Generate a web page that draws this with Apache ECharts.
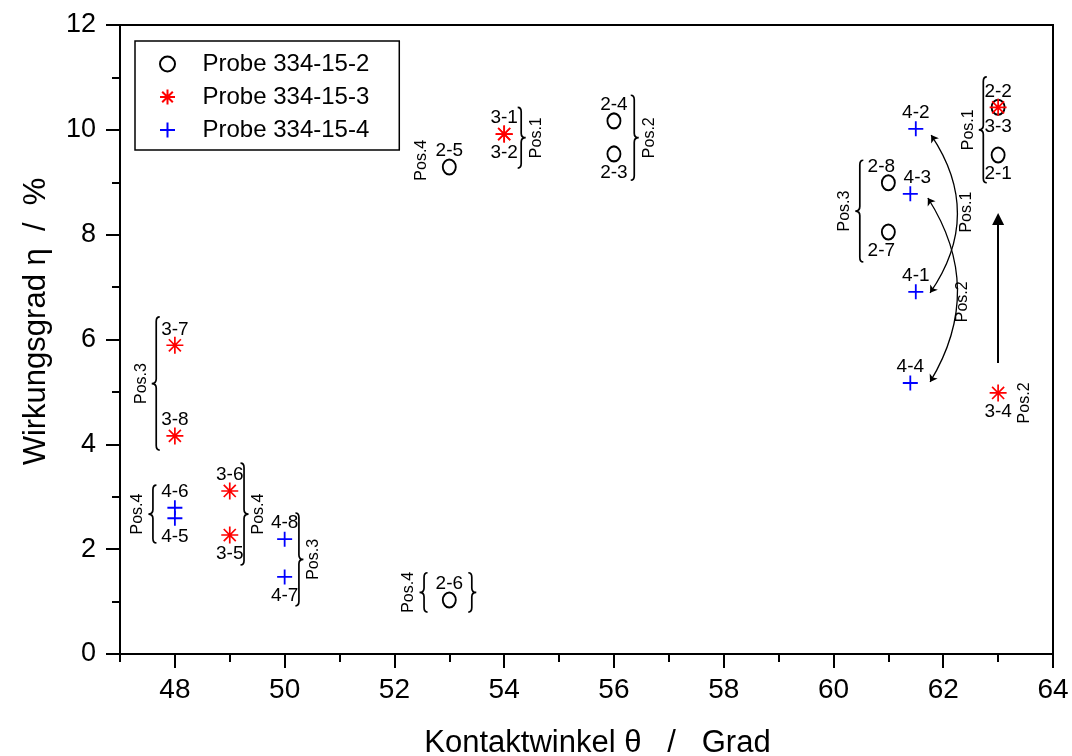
<!DOCTYPE html>
<html><head><meta charset="utf-8">
<script src="https://cdn.jsdelivr.net/npm/echarts@6/dist/echarts.min.js"></script>
<style>html,body{margin:0;padding:0;background:#fff}#c{width:1072px;height:756px}</style>
</head><body><div id="c"></div>
<script>
// ---- data ----
const xMajorTicks = [48, 50, 52, 54, 56, 58, 60, 62, 64];
const yTicks = [0, 2, 4, 6, 8, 10, 12];
const seriesNames = ['Probe 334-15-2', 'Probe 334-15-3', 'Probe 334-15-4'];

const names2 = ['2-1', '2-2', '2-3', '2-4', '2-5', '2-6', '2-7', '2-8'];
const x2 = [63, 63, 56, 56, 53, 53, 61, 61];
const y2 = [9.52, 10.43, 9.54, 10.17, 9.29, 1.03, 8.05, 8.99];
const place2 = ['b', 't', 'b', 't', 't', 't', 'bl', 'tl'];

const names3 = ['3-1', '3-2', '3-3', '3-4', '3-5', '3-6', '3-7', '3-8'];
const x3 = [54, 54, 63, 63, 49, 49, 48, 48];
const y3 = [9.92, 9.92, 10.43, 4.98, 2.27, 3.11, 5.89, 4.16];
const place3 = ['t', 'b', 'b', 'b', 'b', 't', 't', 't'];

const names4 = ['4-1', '4-2', '4-3', '4-4', '4-5', '4-6', '4-7', '4-8'];
const x4 = [61.5, 61.5, 61.4, 61.4, 48, 48, 50, 50];
const y4 = [6.91, 10.02, 8.78, 5.17, 2.59, 2.79, 1.47, 2.19];
const place4 = ['t', 't', 'tr', 't', 'b', 't', 'b', 't'];

// braces: [x, yTop, yBottom, direction (1 = "}", -1 = "{"), label]
const braces = [
  [54.31, 10.43, 9.27, 1, 'Pos.1'],
  [56.37, 10.66, 9.04, 1, 'Pos.2'],
  [62.73, 11.01, 8.99, -1, 'Pos.1'],
  [60.48, 9.42, 7.48, -1, 'Pos.3'],
  [47.66, 6.43, 3.89, -1, 'Pos.3'],
  [47.60, 3.22, 2.12, -1, 'Pos.4'],
  [49.26, 3.64, 1.70, 1, 'Pos.4'],
  [50.26, 2.69, 0.92, 1, 'Pos.3'],
  [52.54, 1.55, 0.80, -1, 'Pos.4'],
  [53.41, 1.55, 0.80, 1, '']
];
// free position labels: [x, y, label]
const posTexts = [
  [52.50, 9.42, 'Pos.4'],
  [62.42, 8.43, 'Pos.1'],
  [62.36, 6.72, 'Pos.2'],
  [63.49, 4.79, 'Pos.2']
];
// curved double arrows: [x1, y1, x2, y2]
const arcs = [
  [61.78, 9.90, 61.76, 6.89],
  [61.72, 8.70, 61.76, 5.19]
];
// straight arrow: [x1, y1, x2, y2]
const straightArrow = [63, 5.55, 63, 8.30];

// ---- chart ----
const FONT = 'Liberation Sans, Arial, Helvetica, sans-serif';
const offsets = { t: [0, -16], b: [0, 19], tl: [-7, -16], tr: [7, -16], bl: [-7, 19] };

function pts(names, xs, ys, places) {
  return names.map((n, i) => ({
    value: [xs[i], ys[i]], name: n,
    label: { offset: offsets[places[i]] }
  }));
}

const ptLabel = {
  show: true, position: 'inside', formatter: p => p.name,
  color: '#000', fontSize: 19, fontFamily: FONT
};

const starPath = 'path://M8 0V16M0 8H16M2.34 2.34L13.66 13.66M2.34 13.66L13.66 2.34';
const plusPath = 'path://M0 8H16M8 0V16';

const chart = echarts.init(document.getElementById('c'), null, { renderer: 'canvas' });

const option = {
  animation: false,
  backgroundColor: '#fff',
  grid: {
    left: 120, right: 19, top: 25, bottom: 102, containLabel: false, outerBoundsMode: 'none',
    show: true, borderColor: '#000', borderWidth: 2, backgroundColor: 'transparent'
  },
  legend: {
    data: seriesNames,
    orient: 'vertical', left: 135, top: 41,
    borderColor: '#000', borderWidth: 1.5,
    padding: [11, 30, 8, 24],
    itemWidth: 40, itemHeight: 15, itemGap: 9,
    textStyle: { fontSize: 24, lineHeight: 23, fontFamily: FONT, color: '#000', padding: [0, 0, 0, 10] }
  },
  xAxis: [{
    type: 'value', min: 47, max: 64, interval: 1,
    axisLine: { show: true, onZero: false, lineStyle: { color: '#000', width: 2 } },
    axisTick: { show: true, length: 8, lineStyle: { color: '#000', width: 2 } },
    axisLabel: { show: false },
    splitLine: { show: false }
  }, {
    type: 'value', min: 47, max: 64, position: 'bottom', offset: 0,
    axisLine: { show: false },
    axisTick: { show: true, customValues: xMajorTicks, length: 14, lineStyle: { color: '#000', width: 2 } },
    axisLabel: { show: true, customValues: xMajorTicks, fontSize: 28, fontFamily: FONT, color: '#000', margin: 22 },
    splitLine: { show: false },
    name: 'Kontaktwinkel θ   /   Grad', nameLocation: 'middle', nameGap: 74,
    nameTextStyle: { fontSize: 31, fontFamily: FONT, color: '#000', padding: [0, 0, 0, 22] }
  }],
  yAxis: {
    type: 'value', min: 0, max: 12, interval: 2,
    axisLine: { show: true, onZero: false, lineStyle: { color: '#000', width: 2 } },
    axisTick: { show: true, length: 14, lineStyle: { color: '#000', width: 2 } },
    minorTick: { show: true, splitNumber: 2, length: 8, lineStyle: { color: '#000', width: 2 } },
    axisLabel: { fontSize: 27, fontFamily: FONT, color: '#000', margin: 24, formatter: v => yTicks.includes(v) ? String(v) : '' },
    splitLine: { show: false },
    name: 'Wirkungsgrad η  /  %', nameLocation: 'middle', nameGap: 68,
    nameTextStyle: { fontSize: 31, fontFamily: FONT, color: '#000', padding: [0, 0, 0, 36] }
  },
  series: [
    {
      name: seriesNames[0], type: 'scatter', xAxisIndex: 0,
      symbol: 'emptyCircle', symbolSize: [13, 15],
      itemStyle: { color: '#000', borderColor: '#000', borderWidth: 1.6, opacity: 1 },
      label: ptLabel, z: 3,
      data: pts(names2, x2, y2, place2)
    },
    {
      name: seriesNames[1], type: 'scatter', xAxisIndex: 0,
      symbol: starPath, symbolSize: 17,
      itemStyle: { color: '#ff0000', borderColor: '#ff0000', borderWidth: 1.7, opacity: 1 },
      label: ptLabel, z: 4,
      data: pts(names3, x3, y3, place3)
    },
    {
      name: seriesNames[2], type: 'scatter', xAxisIndex: 0,
      symbol: plusPath, symbolSize: 15,
      itemStyle: { color: '#0000ff', borderColor: '#0000ff', borderWidth: 1.8, opacity: 1 },
      label: ptLabel, z: 4,
      data: pts(names4, x4, y4, place4)
    },
    {
      type: 'custom', xAxisIndex: 0, silent: true, z: 2,
      data: braces.map(b => [b[0], b[1], b[2], b[3]]),
      renderItem: function (params, api) {
        const b = braces[params.dataIndex];
        const dir = b[3];
        const p1 = api.coord([b[0], b[1]]);
        const p2 = api.coord([b[0], b[2]]);
        const sx = p1[0], top = p1[1], bot = p2[1], mid = (top + bot) / 2;
        const c = 3.5, t = 4.5, r = 4.5;
        const d = 'M' + (sx - dir * c) + ',' + top +
          ' Q' + sx + ',' + top + ' ' + sx + ',' + (top + r) +
          ' L' + sx + ',' + (mid - r) +
          ' Q' + sx + ',' + mid + ' ' + (sx + dir * t) + ',' + mid +
          ' Q' + sx + ',' + mid + ' ' + sx + ',' + (mid + r) +
          ' L' + sx + ',' + (bot - r) +
          ' Q' + sx + ',' + bot + ' ' + (sx - dir * c) + ',' + bot;
        const children = [{
          type: 'path', shape: { pathData: d },
          style: { fill: 'none', stroke: '#000', lineWidth: 1.7 }
        }];
        if (b[4]) {
          children.push({
            type: 'text', x: sx + dir * 15, y: mid, rotation: Math.PI / 2,
            style: { text: b[4], fontSize: 16, fontFamily: FONT, fill: '#000', align: 'center', verticalAlign: 'middle' }
          });
        }
        return { type: 'group', children: children };
      }
    },
    {
      type: 'custom', xAxisIndex: 0, silent: true, z: 2,
      data: posTexts.map(p => [p[0], p[1]]),
      renderItem: function (params, api) {
        const p = posTexts[params.dataIndex];
        const c = api.coord([p[0], p[1]]);
        return {
          type: 'text', x: c[0], y: c[1], rotation: Math.PI / 2,
          style: { text: p[2], fontSize: 16, fontFamily: FONT, fill: '#000', align: 'center', verticalAlign: 'middle' }
        };
      }
    },
    {
      type: 'lines', coordinateSystem: 'cartesian2d', xAxisIndex: 0, silent: true, z: 2,
      symbol: ['arrow', 'arrow'], symbolSize: 7,
      lineStyle: { color: '#000', width: 1.3, opacity: 1 },
      data: arcs.map((a, i) => ({
        coords: [[a[0], a[1]], [a[2], a[3]]],
        lineStyle: { curveness: i === 0 ? 0.34 : 0.31 }
      }))
    },
    {
      type: 'lines', coordinateSystem: 'cartesian2d', xAxisIndex: 0, silent: true, z: 2,
      symbol: ['none', 'triangle'], symbolSize: 12,
      lineStyle: { color: '#000', width: 2, opacity: 1 },
      data: [{ coords: [[straightArrow[0], straightArrow[1]], [straightArrow[2], straightArrow[3]]] }]
    }
  ]
};
chart.setOption(option);
</script>
</body></html>
